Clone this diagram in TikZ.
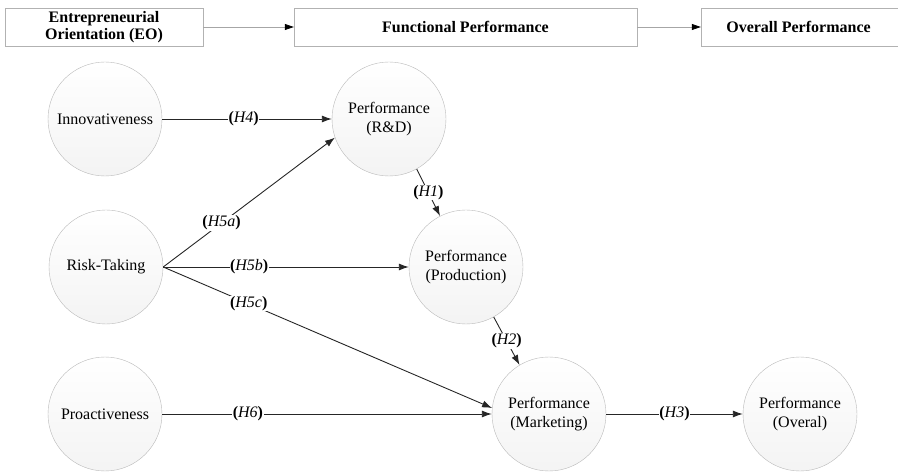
\documentclass[tikz,border=0pt]{standalone}
\usepackage{fontspec}
\setmainfont{Liberation Serif}
\usetikzlibrary{arrows.meta}
\usetikzlibrary{positioning}

\begin{document}
\begin{tikzpicture}[x=1pt,y=-1pt,
	headbox/.style={draw=gray!60, fill=white, minimum height=38pt, inner sep=2pt,
		align=center, font=\fontsize{16}{17}\selectfont\bfseries},
	headarrow/.style={draw=gray!70, line width=0.7pt, -{Triangle[black,length=9pt,width=6pt]}},
	construct/.style={circle, draw=gray!55, minimum size=114pt, inner sep=0pt,
		top color=white, bottom color=gray!9, align=center,
		font=\fontsize{16}{19}\selectfont},
	path/.style={draw=black!85, line width=0.9pt, -{Latex[length=10pt,width=7pt]}},
	hyp/.style={fill=white, inner sep=0.5pt, font=\fontsize{16}{17}\selectfont}]

	\useasboundingbox (0,0) rectangle (898,473);

	%Header
	\node[headbox, minimum width=198pt] (eo) at (104,27) {Entrepreneurial\\Orientation (EO)};
	\node[headbox, minimum width=343pt] (fp) at (465.5,27) {Functional Performance};
	\node[headbox, minimum width=210pt] (op) at (806,27) {\hspace*{-15pt}Overall Performance};
	\draw[headarrow] (eo) -- (fp);
	\draw[headarrow] (fp) -- (op);

	%Constructs
	%EO
	\node[construct] (inno) at (105,119) {Innovativeness};
	\node[construct] (risk) at (106,267) {Risk-Taking};
	\node[construct] (proa) at (105,414) {Proactiveness};

	%Functional
	\node[construct] (rd)   at (389,119) {Performance\\(R\&D)};
	\node[construct] (prod) at (466,267) {Performance\\(Production)};
	\node[construct] (mkt)  at (549,414) {Performance\\(Marketing)};

	%Overall
	\node[construct] (ovr)  at (800,414) {Performance\\(Overal)};

	%Hypotheses
	\draw[path] (inno) -- node[hyp, pos=0.48] {\textbf{(}\textit{H4}\textbf{)}} (rd);
	\draw[path] (risk.east) -- node[hyp, pos=0.34] {\textbf{(}\textit{H5a}\textbf{)}} (rd.199);
	\draw[path] (risk.east) -- node[hyp, pos=0.35] {\textbf{(}\textit{H5b}\textbf{)}} (prod);
	\draw[path] (risk.east) -- node[hyp, pos=0.26] {\textbf{(}\textit{H5c}\textbf{)}} (mkt.174);
	\draw[path] (proa) -- node[hyp, pos=0.26] {\textbf{(}\textit{H6}\textbf{)}} (mkt);
	\draw[path] (rd.-61) -- node[hyp] {\textbf{(}\textit{H1}\textbf{)}} (prod.117);
	\draw[path] (prod.-61) -- node[hyp] {\textbf{(}\textit{H2}\textbf{)}} (mkt.121);
	\draw[path] (mkt) -- node[hyp, pos=0.5] {\textbf{(}\textit{H3}\textbf{)}} (ovr);

\end{tikzpicture}
\end{document}
